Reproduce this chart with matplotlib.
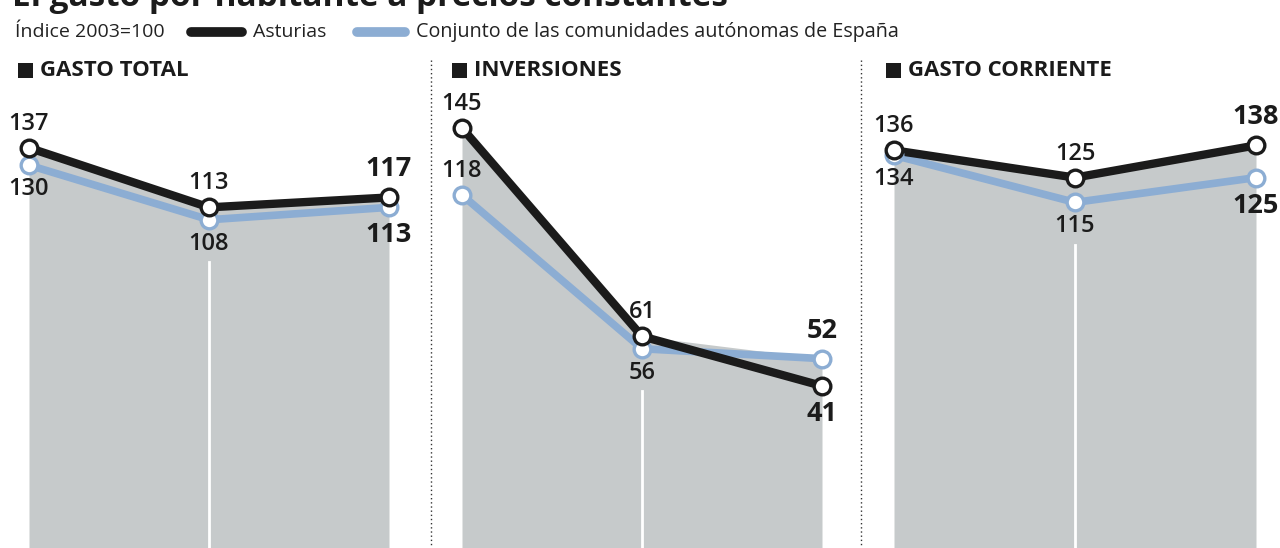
import matplotlib
matplotlib.use("Agg")
import matplotlib.pyplot as plt
import numpy as np

# datos (índice 2003=100)
panels = ["GASTO TOTAL", "INVERSIONES", "GASTO CORRIENTE"]
asturias = [[137, 113, 117], [145, 61, 41], [136, 125, 138]]
espana = [[130, 108, 113], [118, 56, 52], [134, 115, 125]]

BLACK = "#1b1b1b"
BLUE = "#8cadd3"
GRAY = "#c6cacb"
FONT = "Open Sans"

W, H = 1280, 548
fig = plt.figure(figsize=(W / 100, H / 100), dpi=100)
fig.patch.set_facecolor("white")


def fx(px):
    return px / W


def fy(py):
    return 1 - py / H


# y scale: value v sits at pixel 128 + (145 - v) * 2.48
y_lo = 145 - (H - 128) / 2.48
y_hi = 145 + (128 - 90) / 2.48

# title (cut off at the top in the original)
fig.text(fx(12), fy(6), "El gasto por habitante a precios constantes", fontsize=24,
         fontweight="bold", family=FONT, color=BLACK, va="baseline", ha="left")

# legend line
fig.text(fx(15), fy(32), "Índice 2003=100", fontsize=14, family=FONT, color="#222222",
         va="center", ha="left")
fig.add_artist(plt.Line2D([fx(191), fx(242)], [fy(32), fy(32)], color=BLACK, lw=7,
                          solid_capstyle="round"))
fig.text(fx(253), fy(32), "Asturias", fontsize=14, family=FONT, color="#222222",
         va="center", ha="left")
fig.add_artist(plt.Line2D([fx(357), fx(405)], [fy(32), fy(32)], color=BLUE, lw=7,
                          solid_capstyle="round"))
fig.text(fx(416), fy(32), "Conjunto de las comunidades autónomas de España", fontsize=14.2,
         family=FONT, color="#222222", va="center", ha="left")

# panel geometry in pixels
lefts = [29, 462, 894]
rights = [389, 822, 1256]
heads = [18, 452, 886]
seps = [431, 861]

# label placement: (asturias above?, espana above?)
place = [
    [(True, False), (True, False), (True, False)],
    [(True, True), (True, False), (False, True)],
    [(True, False), (True, False), (True, False)],
]

for i, name in enumerate(panels):
    ax = fig.add_axes([fx(lefts[i]), 0, fx(rights[i] - lefts[i]), 1 - (90 / H)])
    ax.set_xlim(0, 2)
    ax.set_ylim(y_lo, y_hi)
    ax.axis("off")
    x = np.arange(3)
    a = np.array(asturias[i])
    e = np.array(espana[i])
    top = np.maximum(a, e)
    ax.fill_between(x, y_lo - 10, top, color=GRAY, lw=0, zorder=1)

    # white divider under the middle point
    ax.plot([1, 1], [y_lo - 10, min(a[1], e[1]) - 17], color="white", lw=2, zorder=2)

    ax.plot(x, e, color=BLUE, lw=5.5, zorder=3, clip_on=False)
    ax.plot(x, a, color=BLACK, lw=6, zorder=4, clip_on=False)
    ax.plot(x, e, ls="none", marker="o", ms=12, mfc="white", mec=BLUE, mew=2.4,
            zorder=5, clip_on=False)
    ax.plot(x, a, ls="none", marker="o", ms=12, mfc="white", mec=BLACK, mew=2.4,
            zorder=6, clip_on=False)

    for j in range(3):
        last = j == 2
        fs = 19.5 if last else 17
        fw = "bold" if last else "semibold"
        for val, up in ((a[j], place[i][j][0]), (e[j], place[i][j][1])):
            off = (28 if last else 24) * (1 if up else -1)
            ax.annotate(str(val), (j, val), xytext=(0, off), textcoords="offset pixels",
                        ha="center", va="center", fontsize=fs, fontweight=fw,
                        family=FONT, color=BLACK, zorder=7, annotation_clip=False)

    # panel header
    fig.add_artist(plt.Rectangle((fx(heads[i]), fy(78)), fx(15), 15 / H, color=BLACK, lw=0))
    fig.text(fx(heads[i] + 22), fy(70), name, fontsize=16, fontweight="bold", family=FONT,
             color=BLACK, va="center", ha="left")

for s in seps:
    fig.add_artist(plt.Line2D([fx(s), fx(s)], [fy(60), 0], color="#333333", lw=1,
                              ls=(0, (1, 2))))

fig.savefig("out.png", dpi=100, facecolor="white")
